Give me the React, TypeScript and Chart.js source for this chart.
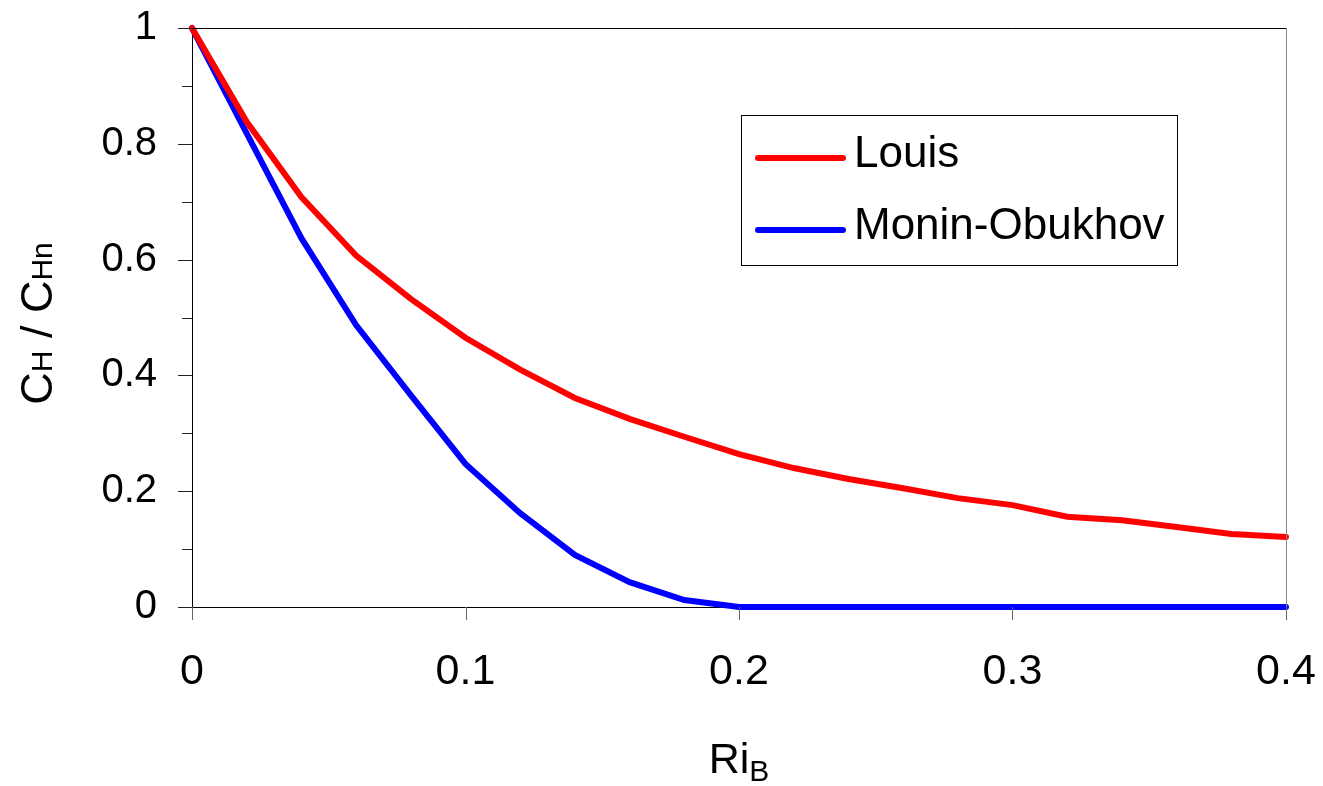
import React, { useEffect, useRef } from "react";
import { Chart, registerables } from "chart.js";

Chart.register(...registerables);

const riB = [0, 0.02, 0.04, 0.06, 0.08, 0.1, 0.12, 0.14, 0.16, 0.18, 0.2, 0.22, 0.24, 0.26, 0.28, 0.3, 0.32, 0.34, 0.36, 0.38, 0.4];
const louis = [1, 0.838, 0.708, 0.607, 0.532, 0.465, 0.41, 0.361, 0.325, 0.294, 0.264, 0.24, 0.221, 0.205, 0.188, 0.176, 0.156, 0.15, 0.138, 0.126, 0.121];
const moninObukhov = [1, 0.818, 0.637, 0.487, 0.366, 0.247, 0.162, 0.09, 0.043, 0.012, 0, 0, 0, 0, 0, 0, 0, 0, 0, 0, 0];
const seriesNames = ["Louis", "Monin-Obukhov"];
const seriesColors = ["#ff0000", "#0000ff"];
const xTicks = [0, 0.1, 0.2, 0.3, 0.4];
const yTicks = [0, 0.2, 0.4, 0.6, 0.8, 1];
const yMinorTicks = [0.1, 0.3, 0.5, 0.7, 0.9];

const FONT = "'Liberation Sans', Arial, Helvetica, sans-serif";

type Seg = { text: string; size: number; dy: number };

function drawSegs(ctx: CanvasRenderingContext2D, segs: Seg[], cx: number, baseY: number) {
  let total = 0;
  for (const s of segs) {
    ctx.font = `${s.size}px ${FONT}`;
    total += ctx.measureText(s.text).width;
  }
  let x = cx - total / 2;
  ctx.textBaseline = "alphabetic";
  ctx.textAlign = "left";
  for (const s of segs) {
    ctx.font = `${s.size}px ${FONT}`;
    ctx.fillText(s.text, x, baseY + s.dy);
    x += ctx.measureText(s.text).width;
  }
}

const decorPlugin = {
  id: "decor",
  afterDraw(chart: any) {
    const ctx: CanvasRenderingContext2D = chart.ctx;
    const { left, right, top, bottom } = chart.chartArea;
    const xs = chart.scales.x;
    const ys = chart.scales.y;
    ctx.save();
    // frame top and right
    ctx.lineWidth = 1;
    ctx.strokeStyle = "#000";
    ctx.beginPath();
    ctx.moveTo(left, top + 0.5);
    ctx.lineTo(right, top + 0.5);
    ctx.stroke();
    ctx.strokeStyle = "#888";
    ctx.beginPath();
    ctx.moveTo(right + 0.5, top);
    ctx.lineTo(right + 0.5, bottom);
    ctx.stroke();
    // y ticks
    ctx.strokeStyle = "#222";
    for (const v of yTicks) {
      const p = Math.round(ys.getPixelForValue(v)) + 0.5;
      ctx.beginPath();
      ctx.moveTo(left - 14, p);
      ctx.lineTo(left, p);
      ctx.stroke();
    }
    for (const v of yMinorTicks) {
      const p = Math.round(ys.getPixelForValue(v)) + 0.5;
      ctx.beginPath();
      ctx.moveTo(left - 10, p);
      ctx.lineTo(left, p);
      ctx.stroke();
    }
    // x ticks
    ctx.strokeStyle = "#666";
    for (const v of xTicks) {
      const p = Math.round(xs.getPixelForValue(v)) + 0.5;
      ctx.beginPath();
      ctx.moveTo(p, bottom);
      ctx.lineTo(p, bottom + 13);
      ctx.stroke();
    }
    // axis titles
    ctx.fillStyle = "#000";
    drawSegs(ctx, [
      { text: "Ri", size: 43, dy: 0 },
      { text: "B", size: 30, dy: 8 },
    ], (left + right) / 2, 773);
    ctx.save();
    ctx.translate(52, (top + bottom) / 2 + 6);
    ctx.rotate(-Math.PI / 2);
    drawSegs(ctx, [
      { text: "C", size: 45, dy: 0 },
      { text: "H", size: 30, dy: 0 },
      { text: " / ", size: 45, dy: 0 },
      { text: "C", size: 45, dy: 0 },
      { text: "Hn", size: 30, dy: 0 },
    ], 0, 0);
    ctx.restore();
    // legend
    const lx = 741, ly = 115, lw = 436, lh = 150;
    ctx.lineWidth = 1;
    ctx.strokeStyle = "#000";
    ctx.strokeRect(lx + 0.5, ly + 0.5, lw, lh);
    const rows = [158, 230];
    chart.data.datasets.forEach((ds: any, i: number) => {
      const y = rows[i];
      ctx.strokeStyle = ds.borderColor;
      ctx.lineWidth = 6;
      ctx.lineCap = "round";
      ctx.beginPath();
      ctx.moveTo(758, y);
      ctx.lineTo(843, y);
      ctx.stroke();
      ctx.fillStyle = "#000";
      ctx.font = `44px ${FONT}`;
      ctx.textAlign = "left";
      ctx.textBaseline = "alphabetic";
      ctx.fillText(ds.label, 854, y + 9);
    });
    ctx.restore();
  },
};

function zeroPad(s: any) {
  s.paddingLeft = 0;
  s.paddingRight = 0;
  s.paddingTop = 0;
  s.paddingBottom = 0;
}

export default function App() {
  const ref = useRef<HTMLCanvasElement | null>(null);
  useEffect(() => {
    if (!ref.current) return;
    const series = [louis, moninObukhov];
    const chart = new Chart(ref.current, {
      type: "line",
      data: {
        datasets: series.map((vals, i) => ({
          label: seriesNames[i],
          data: riB.map((x, j) => ({ x, y: vals[j] })),
          borderColor: seriesColors[i],
          backgroundColor: seriesColors[i],
          borderWidth: 6,
          pointRadius: 0,
          tension: 0,
          clip: false as any,
          borderCapStyle: "round" as const,
        })),
      },
      options: {
        responsive: false,
        animation: false,
        devicePixelRatio: 1,
        layout: { padding: { top: 28, right: 37, left: 0, bottom: 0 } },
        plugins: { legend: { display: false }, tooltip: { enabled: false } },
        scales: {
          x: {
            type: "linear",
            min: 0,
            max: 0.4,
            afterBuildTicks: (s: any) => {
              s.ticks = xTicks.map((v) => ({ value: v }));
            },
            afterFit: (s: any) => {
              s.height = 179;
              zeroPad(s);
            },
            ticks: {
              padding: 39,
              color: "#000",
              font: { family: FONT, size: 43 },
              maxRotation: 0,
              callback: (v: any) => String(v),
            },
            grid: { display: false, drawTicks: false },
            border: { display: true, color: "#000", width: 1 },
          },
          y: {
            type: "linear",
            min: 0,
            max: 1,
            afterBuildTicks: (s: any) => {
              s.ticks = yTicks.map((v) => ({ value: v }));
            },
            afterFit: (s: any) => {
              s.width = 192;
              zeroPad(s);
            },
            ticks: {
              padding: 35,
              color: "#000",
              font: { family: FONT, size: 40 },
              callback: (v: any) => String(v),
            },
            grid: { display: false, drawTicks: false },
            border: { display: true, color: "#000", width: 1 },
          },
        },
      },
      plugins: [decorPlugin],
    });
    return () => chart.destroy();
  }, []);
  return (
    <div style={{ position: "absolute", left: 0, top: 0, width: 1323, height: 786, background: "#fff" }}>
      <canvas ref={ref} width={1323} height={786} />
    </div>
  );
}
